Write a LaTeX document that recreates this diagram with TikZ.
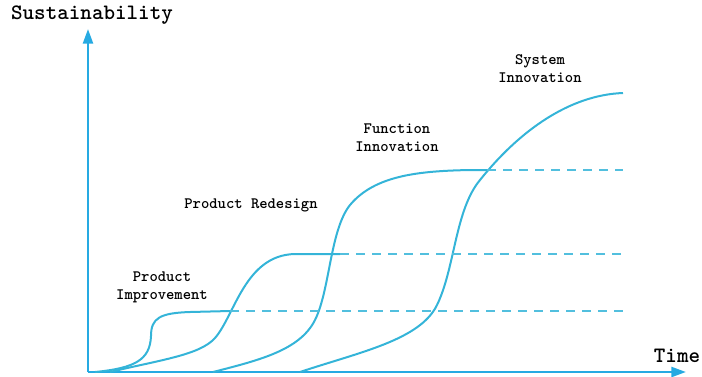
\documentclass[tikz,border=0pt]{standalone}
\usepackage{fontspec}
\usetikzlibrary{arrows.meta}

\definecolor{axisblue}{RGB}{38,170,226}
\definecolor{curveblue}{RGB}{52,180,216}

\begin{document}
\begin{tikzpicture}[x=0.75pt,y=0.75pt,yscale=-1,xscale=1,
  axisline/.style={draw=axisblue,line width=1.8,-{Triangle[length=11,width=7.5]}},
  scurve/.style={draw=curveblue,line width=1.5},
  levelline/.style={draw=curveblue!85,line width=1.3,dash pattern=on 7 off 5},
  lbl/.style={inner sep=0.75pt,align=center,font=\ttfamily\bfseries\fontsize{11.9}{13.5}\selectfont},
  axlbl/.style={inner sep=0.75pt,font=\ttfamily\bfseries\fontsize{16.5}{18}\selectfont}]
  \useasboundingbox (0,0) rectangle (702,376);

  %Axes coordinates
  \coordinate (origin) at (88,372);
  \coordinate (ytop) at (88,29);
  \coordinate (xend) at (686,372);

  %Straight Lines [axes]
  \draw [axisline] (origin) -- (ytop);
  \draw [axisline] (origin) -- (xend);

  %Level ends
  \coordinate (imp end) at (230,311);
  \coordinate (red end) at (340,254);
  \coordinate (fun end) at (487,170);
  \coordinate (imp lim) at (623,311);
  \coordinate (red lim) at (623,254);
  \coordinate (fun lim) at (623,170);

  %Curve Lines [product improvement]
  \draw [scurve] (95,372) .. controls (135,368) and (150,360) .. (151,336) .. controls (151,318) and (160,313) .. (190,312) -- (imp end);
  %Curve Lines [product redesign]
  \draw [scurve] (110,372) .. controls (160,360) and (200,355) .. (215,338) .. controls (235,315) and (245,255) .. (295,254) -- (red end);
  %Curve Lines [function innovation]
  \draw [scurve] (213,372) .. controls (260,360) and (300,350) .. (315,320) .. controls (330,290) and (330,230) .. (350,205) .. controls (375,175) and (420,171) .. (470,170) -- (fun end);
  %Curve Lines [system innovation]
  \draw [scurve] (300,372) .. controls (360,352) and (420,340) .. (437,305) .. controls (455,268) and (455,210) .. (480,180) .. controls (520,130) and (570,95) .. (623,93);

  %Dashed Lines
  \draw [levelline] (imp end) -- (imp lim);
  \draw [levelline] (red end) -- (red lim);
  \draw [levelline] (fun end) -- (fun lim);

  % Text Node
  \node [axlbl] (sust) at (92,15) {Sustainability};
  % Text Node
  \node [axlbl] (time) at (677,356) {Time};
  % Text Node
  \node [lbl] (improvement) at (162,287) {Product\\Improvement};
  % Text Node
  \node [lbl] (redesign) at (251,205) {Product Redesign};
  % Text Node
  \node [lbl] (function) at (397,138) {Function\\Innovation};
  % Text Node
  \node [lbl] (system) at (540,69) {System\\Innovation};

\end{tikzpicture}
\end{document}
